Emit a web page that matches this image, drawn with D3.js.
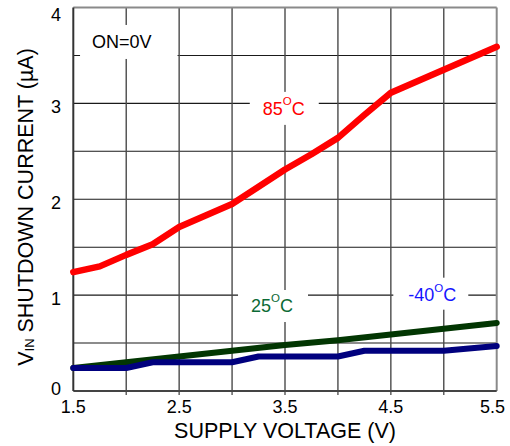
<!DOCTYPE html>
<html>
<head>
<meta charset="utf-8">
<script src="https://cdn.jsdelivr.net/npm/d3@7"></script>
<style>
  body { margin: 0; background: #fff; }
  svg { display: block; font-family: "Liberation Sans", Arial, sans-serif; }
</style>
</head>
<body>
<svg id="chart" width="510" height="446"></svg>
<script>
// Supply voltage (V) and shutdown current (µA) for each temperature
const volts85 = [1.5, 1.75, 2.0, 2.25, 2.5, 2.75, 3.0, 3.25, 3.5, 3.75, 4.0, 4.25, 4.5, 4.75, 5.0, 5.25, 5.5];
const amps85  = [1.24, 1.30, 1.42, 1.53, 1.71, 1.83, 1.95, 2.13, 2.31, 2.47, 2.64, 2.88, 3.11, 3.23, 3.35, 3.47, 3.59];

const volts25 = [1.5, 2.0, 2.5, 3.0, 3.5, 4.0, 4.5, 5.0, 5.5];
const amps25  = [0.24, 0.30, 0.36, 0.42, 0.48, 0.53, 0.59, 0.65, 0.71];

const voltsM40 = [1.5, 2.0, 2.25, 3.0, 3.25, 4.0, 4.25, 5.0, 5.5];
const ampsM40  = [0.24, 0.24, 0.30, 0.30, 0.36, 0.36, 0.42, 0.42, 0.47];

const xTicks = [1.5, 2.5, 3.5, 4.5, 5.5];
const yTicks = [0, 1, 2, 3, 4];
const xGrid = [2.0, 2.5, 3.0, 3.5, 4.0, 4.5, 5.0];
const yGrid = [0.5, 1, 1.5, 2, 2.5, 3, 3.5];

const svg = d3.select("#chart");
const x = d3.scaleLinear().domain([1.5, 5.5]).range([73.3, 496.7]);
const y = d3.scaleLinear().domain([0, 4]).range([391, 7.5]);

// grid
const grid = svg.append("g");
grid.selectAll("line.h").data(yGrid).join("line")
  .attr("x1", x(1.5)).attr("x2", x(5.5))
  .attr("y1", d => y(d)).attr("y2", d => y(d))
  .attr("stroke", "#1a1a1a").attr("stroke-width", 1.1);
grid.selectAll("line.v").data(xGrid).join("line")
  .attr("x1", d => x(d)).attr("x2", d => x(d))
  .attr("y1", y(4)).attr("y2", y(0))
  .attr("stroke", "#4a4a4a").attr("stroke-width", 1.4);

// bottom ticks
svg.append("g").selectAll("line").data(xGrid).join("line")
  .attr("x1", d => x(d)).attr("x2", d => x(d))
  .attr("y1", y(0)).attr("y2", y(0) + 4)
  .attr("stroke", "#555").attr("stroke-width", 1.4);

// frame
svg.append("line").attr("x1", x(1.5)).attr("x2", x(5.5)).attr("y1", y(4)).attr("y2", y(4))
  .attr("stroke", "#8a8a8a").attr("stroke-width", 2);
svg.append("line").attr("x1", x(5.5)).attr("x2", x(5.5)).attr("y1", y(4)).attr("y2", y(0))
  .attr("stroke", "#8a8a8a").attr("stroke-width", 2);
svg.append("line").attr("x1", x(1.5)).attr("x2", x(5.5)).attr("y1", y(0)).attr("y2", y(0))
  .attr("stroke", "#444").attr("stroke-width", 2);
svg.append("line").attr("x1", x(1.5)).attr("x2", x(1.5)).attr("y1", y(4)).attr("y2", y(0))
  .attr("stroke", "#333").attr("stroke-width", 2);

// annotations with white backing boxes
const notes = [
  { main: "ON=0V", sup: null, tail: "", vx: 1.677, vy: 3.578, color: "#000", pad: [12, 26, 7, 7] },
  { main: "85", sup: "O", tail: "C", vx: 3.29, vy: 2.88, color: "#ff0000", pad: [13, 14, 3, 6], shift: 10 },
  { main: "25", sup: "O", tail: "C", vx: 3.179, vy: 0.824, color: "#0b6a35", pad: [13, 15, 2, 6], shift: 10 },
  { main: "-40", sup: "O", tail: "C", vx: 4.665, vy: 0.942, color: "#1515ff", pad: [15, 12, 4, 5], shift: 9 }
];
const noteLayer = svg.append("g");
notes.forEach(n => {
  const g = noteLayer.append("g");
  const rect = g.append("rect").attr("fill", "#fff");
  const t = g.append("text")
    .attr("x", x(n.vx)).attr("y", y(n.vy))
    .attr("font-size", 18).attr("fill", n.color);
  t.append("tspan").text(n.main);
  if (n.sup) {
    t.append("tspan").text(n.sup).attr("font-size", 11.5).attr("dy", -n.shift);
    t.append("tspan").text(n.tail).attr("dy", n.shift);
  }
  const b = t.node().getBBox();
  rect.attr("x", b.x - n.pad[0]).attr("y", b.y - n.pad[2])
    .attr("width", b.width + n.pad[0] + n.pad[1])
    .attr("height", b.height + n.pad[2] + n.pad[3]);
});

// curves
const line = d3.line().x(d => x(d[0])).y(d => y(d[1]));
const series = [
  { v: volts25, a: amps25, color: "#023602", w: 6 },
  { v: voltsM40, a: ampsM40, color: "#00007e", w: 6 },
  { v: volts85, a: amps85, color: "#ff0000", w: 6.5 }
];
svg.append("g").selectAll("path").data(series).join("path")
  .attr("d", s => line(d3.zip(s.v, s.a)))
  .attr("fill", "none")
  .attr("stroke", s => s.color)
  .attr("stroke-width", s => s.w)
  .attr("stroke-linecap", "round")
  .attr("stroke-linejoin", "round");

// tick labels
svg.append("g").selectAll("text").data(yTicks).join("text")
  .attr("x", 61)
  .attr("y", d => Math.max(21, Math.min(395, y(d) + 10)))
  .attr("text-anchor", "end").attr("font-size", 18).attr("fill", "#000")
  .text(d => d);
svg.append("g").selectAll("text").data(xTicks).join("text")
  .attr("x", d => Math.min(492.5, x(d)))
  .attr("y", y(0) + 22)
  .attr("text-anchor", "middle").attr("font-size", 18).attr("fill", "#000")
  .text(d => d.toFixed(1));

// axis titles
svg.append("text")
  .attr("x", x(3.5)).attr("y", 438)
  .attr("text-anchor", "middle").attr("font-size", 21.5).attr("fill", "#000")
  .text("SUPPLY VOLTAGE (V)");

const yt = svg.append("text")
  .attr("transform", "translate(33,207) rotate(-90)")
  .attr("text-anchor", "middle").attr("font-size", 21.5).attr("fill", "#000");
yt.append("tspan").text("V");
yt.append("tspan").text("IN").attr("font-size", 13).attr("dy", 1);
yt.append("tspan").text(" SHUTDOWN CURRENT (µA)").attr("dy", -1);
</script>
</body>
</html>
